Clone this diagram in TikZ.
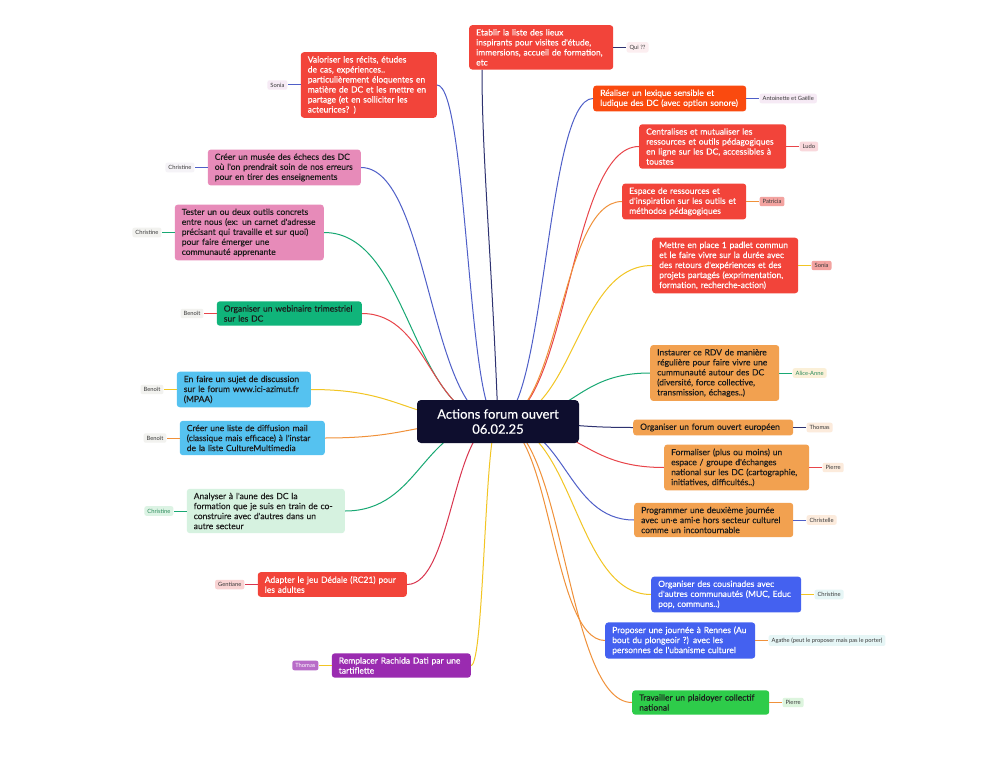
\documentclass[tikz,border=0pt]{standalone}
\usepackage{fontspec}
\setmainfont{Lato}
\newfontfamily\mediumfont{Lato}[FakeBold=0.35]
\usepackage{tikz}
\usetikzlibrary{positioning,calc,backgrounds}
\usepackage{xcolor}
\definecolor{Night}{HTML}{0E0E2E}
\definecolor{Tomato}{HTML}{F2443A}
\definecolor{Blaze}{HTML}{FA4A0F}
\definecolor{Rose}{HTML}{E78BB9}
\definecolor{Jade}{HTML}{10B47A}
\definecolor{Sky}{HTML}{55C2F0}
\definecolor{Mint}{HTML}{D6F2E0}
\definecolor{Grape}{HTML}{9A2BB0}
\definecolor{Apricot}{HTML}{F2A150}
\definecolor{Royal}{HTML}{4461F0}
\definecolor{Leaf}{HTML}{2ECC4A}
\definecolor{Ink}{HTML}{1C1C1C}
\definecolor{TagText}{HTML}{3A3A3A}
% connector colours
\definecolor{LBlue}{HTML}{4F5FC8}
\definecolor{LNavy}{HTML}{2E3270}
\definecolor{LGreen}{HTML}{18A873}
\definecolor{LRed}{HTML}{E8454A}
\definecolor{LYellow}{HTML}{F2C523}
\definecolor{LOrange}{HTML}{F0913A}
\definecolor{LCrimson}{HTML}{D9354F}
% tag backgrounds
\definecolor{TLilac}{HTML}{F6EAF5}
\definecolor{TPale}{HTML}{F5F3F7}
\definecolor{TGrey}{HTML}{F2F2EF}
\definecolor{TMint}{HTML}{DCF3E4}
\definecolor{TPink}{HTML}{F9D3D3}
\definecolor{TPurple}{HTML}{B86CC8}
\definecolor{TBlush}{HTML}{FCEEF0}
\definecolor{TRose}{HTML}{F9D8DC}
\definecolor{TSalmon}{HTML}{F3A3A0}
\definecolor{TCream}{HTML}{FBF0D8}
\definecolor{TBeige}{HTML}{FCEBDC}
\definecolor{TAqua}{HTML}{E6F6F6}
\definecolor{TLime}{HTML}{DDF5DE}
\definecolor{TGreenTxt}{HTML}{2A8A5A}
\newcommand{\boxfont}{\mediumfont\fontsize{8.5}{10}\selectfont\hyphenpenalty=10000}
\newcommand{\tagfont}{\fontsize{5.8}{7}\selectfont}
\newcommand{\branch}[2]{%
  \draw[link,#1] let \p1=(ctr.center), \p2=(#2) in
    (\p1) .. controls ({(\x1+\x2)/2},\y1) and ({(\x1+\x2)/2},\y2) .. (\p2);}

\begin{document}
\begin{tikzpicture}[x=1pt,y=-1pt,
  idea/.style={rounded corners=3pt,inner xsep=7pt,inner ysep=4pt,align=left,text width=#1pt,font=\boxfont,text=Ink},
  tag/.style={rounded corners=2pt,inner xsep=3pt,inner ysep=2.6pt,font=\tagfont,text=TagText},
  link/.style={line width=1pt}]
\useasboundingbox (0,0) rectangle (1000,759);

% centre
\node[fill=Night,text=white,rounded corners=4pt,minimum width=162pt,minimum height=43pt,
  align=center,font=\mediumfont\fontsize{13}{15}\selectfont] (ctr) at (498,421.5) {Actions forum ouvert\\06.02.25};

% left branches
\node[idea=122,fill=Tomato,text=white,anchor=east] (valo) at (437,85) {Valoriser les récits, études\\de cas, expériences..\\particulièrement éloquentes en\\matière de DC et les mettre en\\partage (et en solliciter les\\acteurices? )};
\node[idea=139,fill=Rose,anchor=east] (musee) at (361,167.5) {Créer un musée des échecs des DC\\où l'on prendrait soin de nos erreurs\\pour en tirer des enseignements};
\node[idea=135,fill=Rose,anchor=east] (tester) at (324,232.5) {Tester un ou deux outils concrets\\entre nous (ex: un carnet d'adresse\\précisant qui travaille et sur quoi)\\pour faire émerger une\\communauté apprenante};
\node[idea=131,fill=Jade,anchor=east] (webi) at (362,313.5) {Organiser un webinaire trimestriel\\sur les DC};
\node[idea=120,fill=Sky,anchor=east] (sujet) at (311,389.5) {En faire un sujet de discussion\\sur le forum www.ici-azimut.fr\\(MPAA)};
\node[idea=131,fill=Sky,anchor=east] (liste) at (325,438) {Créer une liste de diffusion mail\\(classique mais efficace) à l'instar\\de la liste CultureMultimedia};
\node[idea=144,fill=Mint,anchor=east] (analyse) at (345,511) {Analyser à l'aune des DC la\\formation que je suis en train de co-\\construire avec d'autres dans un\\autre secteur};
\node[idea=135,fill=Tomato,text=white,anchor=east] (dedale) at (407,584.5) {Adapter le jeu Dédale (RC21) pour\\les adultes};
\node[idea=125,fill=Grape,text=white,anchor=east] (tartif) at (471,665.5) {Remplacer Rachida Dati par une\\tartiflette};

% right branches
\node[idea=130,fill=Tomato,text=white,anchor=north west] (lieux) at (469,25) {Etablir la liste des lieux\\inspirants pour visites d'étude,\\immersions, accueil de formation,\\etc};
\node[idea=139,fill=Blaze,text=white,anchor=west] (lexique) at (593,98.5) {Réaliser un lexique sensible et\\ludique des DC (avec option sonore)};
\node[idea=133,fill=Tomato,text=white,anchor=west] (ressou) at (639,146.5) {Centralises et mutualiser les\\ressources et outils pédagogiques\\en ligne sur les DC, accessibles à\\toustes};
\node[idea=110,fill=Tomato,text=white,anchor=west] (espace) at (622,201.5) {Espace de ressources et\\d'inspiration sur les outils et\\méthodos pédagogiques};
\node[idea=132,fill=Tomato,text=white,anchor=west] (padlet) at (652,265.5) {Mettre en place 1 padlet commun\\et le faire vivre sur la durée avec\\des retours d'expériences et des\\projets partagés (exprimentation,\\formation, recherche-action)};
\node[idea=115,fill=Apricot,anchor=west] (rdv) at (650,373) {Instaurer ce RDV de manière\\régulière pour faire vivre une\\cummunauté autour des DC\\(diversité, force collective,\\transmission, échages..)};
\node[idea=146,fill=Apricot,anchor=west] (europe) at (633,427.5) {Organiser un forum ouvert européen};
\node[idea=131,fill=Apricot,anchor=west] (national) at (664,467.5) {Formaliser (plus ou moins) un\\espace / groupe d'échanges\\national sur les DC (cartographie,\\initiatives, difficultés..)};
\node[idea=145,fill=Apricot,anchor=west] (journee) at (634,520) {Programmer une deuxième journée\\avec un·e ami·e hors secteur culturel\\comme un incontournable};
\node[idea=136,fill=Royal,text=white,anchor=west] (cousin) at (651,594.5) {Organiser des cousinades avec\\d'autres communautés (MUC, Educ\\pop, communs..)};
\node[idea=136,fill=Royal,text=white,anchor=west] (rennes) at (605,640.5) {Proposer une journée à Rennes (Au\\bout du plongeoir ?) avec les\\personnes de l'ubanisme culturel};
\node[idea=123,fill=Leaf,anchor=west] (plaidoyer) at (632,702.5) {Travailler un plaidoyer collectif\\national};

% who
\node[tag,fill=TLilac,left=13pt of valo] (valoWho) {Sonia};
\node[tag,fill=TPale,left=13pt of musee] (museeWho) {Christine};
\node[tag,fill=TGrey,left=13pt of tester] (testerWho) {Christine};
\node[tag,fill=TGrey,left=13pt of webi] (webiWho) {Benoît};
\node[tag,fill=TGrey,left=13pt of sujet] (sujetWho) {Benoît};
\node[tag,fill=TGrey,left=13pt of liste] (listeWho) {Benoît};
\node[tag,fill=TMint,text=TGreenTxt,left=13pt of analyse] (analyseWho) {Christine};
\node[tag,fill=TPink,left=13pt of dedale] (dedaleWho) {Gentiane};
\node[tag,fill=TPurple,text=white,left=13pt of tartif] (tartifWho) {Thomas};
\node[tag,fill=TBlush,right=13pt of lieux] (lieuxWho) {Qui ??};
\node[tag,fill=TLilac,right=13pt of lexique] (lexiqueWho) {Antoinette et Gaëlle};
\node[tag,fill=TRose,right=13pt of ressou] (ressouWho) {Ludo};
\node[tag,fill=TSalmon,right=13pt of espace] (espaceWho) {Patricia};
\node[tag,fill=TSalmon,right=13pt of padlet] (padletWho) {Sonia};
\node[tag,fill=TCream,text=TGreenTxt,right=13pt of rdv] (rdvWho) {Alice-Anne};
\node[tag,fill=TBeige,right=13pt of europe] (europeWho) {Thomas};
\node[tag,fill=TBeige,right=13pt of national] (nationalWho) {Pierre};
\node[tag,fill=TBeige,right=13pt of journee] (journeeWho) {Christelle};
\node[tag,fill=TAqua,right=13pt of cousin] (cousinWho) {Christine};
\node[tag,fill=TAqua,right=13pt of rennes] (rennesWho) {Agathe (peut le proposer mais pas le porter)};
\node[tag,fill=TLime,right=13pt of plaidoyer] (plaidoyerWho) {Pierre};

\draw[link,LBlue] (valo) -- (valoWho);
\draw[link,LBlue] (musee) -- (museeWho);
\draw[link,LGreen] (tester) -- (testerWho);
\draw[link,LRed] (webi) -- (webiWho);
\draw[link,LYellow] (sujet) -- (sujetWho);
\draw[link,LOrange] (liste) -- (listeWho);
\draw[link,LGreen] (analyse) -- (analyseWho);
\draw[link,LCrimson] (dedale) -- (dedaleWho);
\draw[link,LYellow] (tartif) -- (tartifWho);
\draw[link,LNavy] (lieux) -- (lieuxWho);
\draw[link,LBlue] (lexique) -- (lexiqueWho);
\draw[link,LRed] (ressou) -- (ressouWho);
\draw[link,LOrange] (espace) -- (espaceWho);
\draw[link,LYellow] (padlet) -- (padletWho);
\draw[link,LGreen] (rdv) -- (rdvWho);
\draw[link,LNavy] (europe) -- (europeWho);
\draw[link,LRed] (national) -- (nationalWho);
\draw[link,LBlue] (journee) -- (journeeWho);
\draw[link,LYellow] (cousin) -- (cousinWho);
\draw[link,LOrange] (rennes) -- (rennesWho);
\draw[link,LOrange] (plaidoyer) -- (plaidoyerWho);

\begin{scope}[on background layer]
\fill[white] (0,0) rectangle (1000,759);
\coordinate (lieuxFoot) at ($(lieux.south west)+(13,0)$);
\draw[link,LNavy] (ctr.center) .. controls (492,260) and (482,160) .. (lieuxFoot);
\branch{LBlue}{valo.east}
\branch{LBlue}{musee.east}
\branch{LGreen}{tester.east}
\branch{LRed}{webi.east}
\branch{LYellow}{sujet.east}
\branch{LOrange}{liste.east}
\branch{LGreen}{analyse.east}
\branch{LCrimson}{dedale.east}
\branch{LYellow}{tartif.east}
\branch{LBlue}{lexique.west}
\branch{LRed}{ressou.west}
\branch{LOrange}{espace.west}
\branch{LYellow}{padlet.west}
\branch{LGreen}{rdv.west}
\branch{LNavy}{europe.west}
\branch{LRed}{national.west}
\branch{LBlue}{journee.west}
\branch{LYellow}{cousin.west}
\branch{LOrange}{rennes.west}
\branch{LOrange}{plaidoyer.west}
\end{scope}
\end{tikzpicture}
\end{document}
